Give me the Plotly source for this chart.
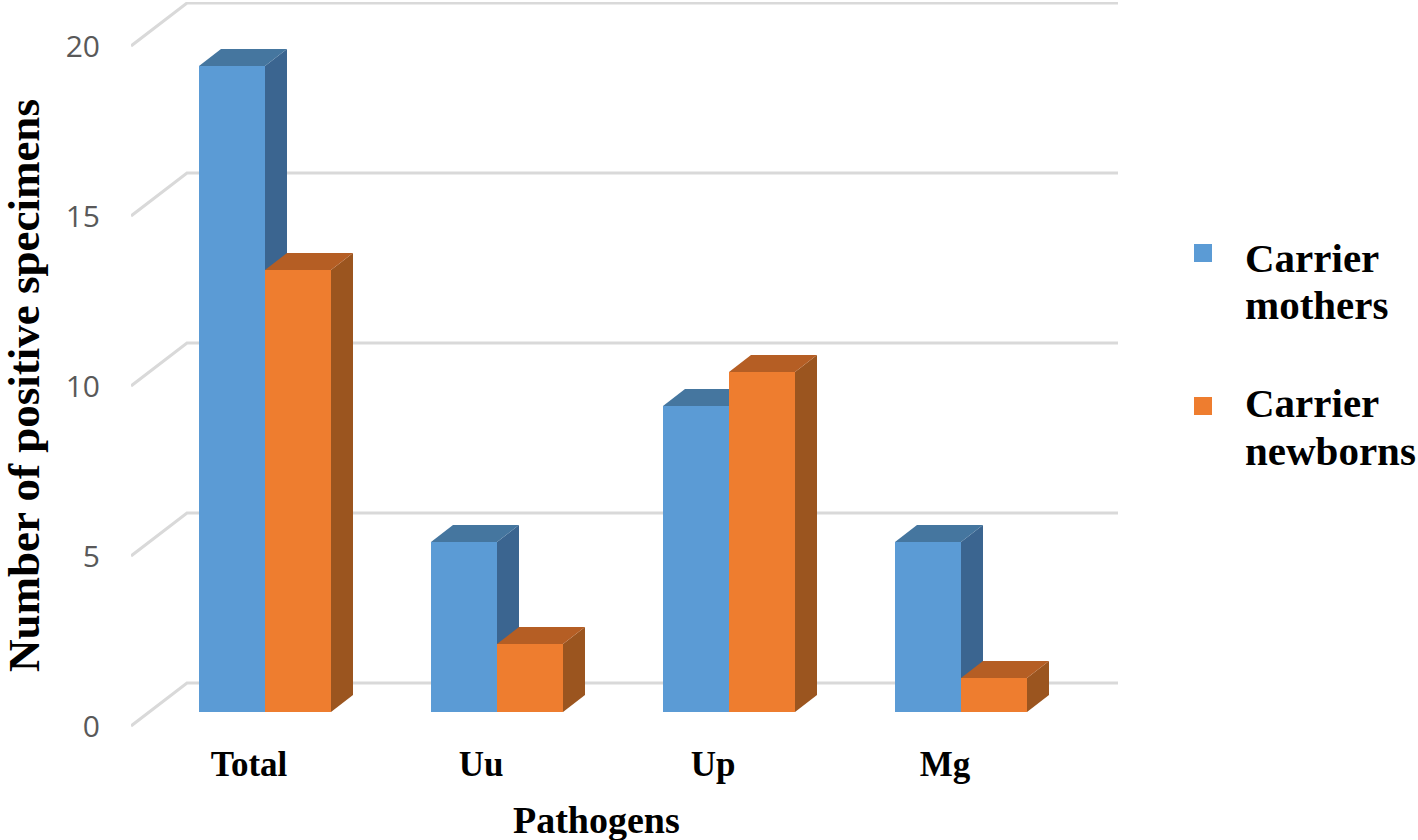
import numpy as np
import plotly.graph_objects as go

categories = ['Total', 'Uu', 'Up', 'Mg']
mothers = [19, 5, 9, 5]
newborns = [13, 2, 10, 1]
y_ticks = [0, 5, 10, 15, 20]

SERIF = 'Liberation Serif'
BLUE = {'front': '#5B9BD5', 'side': '#3B6590', 'top': '#45769F'}
ORANGE = {'front': '#EE7D2F', 'side': '#9B551F', 'top': '#B55E24'}

# pixel scales of the picture, everything below is in data units
PX_X = 232
PX_Y = 34
BAR_W = 66 / PX_X
DEPTH_X = 22 / PX_X
DEPTH_Y = 17 / PX_Y
WALL_X = 56 / PX_X
WALL_Y = 43 / PX_Y
FLOOR_DROP = 14 / PX_Y
X_RANGE = [(131 - 265) / PX_X, (1118 - 265) / PX_X]
Y_RANGE = [(712 - 730) / PX_Y, (712 - 2) / PX_Y]

pos = np.arange(len(categories))


# page pixels to plot domain fractions, for the texts outside the plot
def dom_x(px):
    return (px - 131) / 987


def dom_y(px):
    return (730 - px) / 728


def poly(points, color):
    path = 'M' + ' L'.join(f'{x},{y}' for x, y in points) + ' Z'
    return dict(type='path', path=path, xref='x', yref='y', layer='below',
                fillcolor=color, line_width=0)


def box_faces(x0, value, colors):
    x1 = x0 + BAR_W
    top = poly([(x0, value), (x1, value), (x1 + DEPTH_X, value + DEPTH_Y), (x0 + DEPTH_X, value + DEPTH_Y)],
               colors['top'])
    side = poly([(x1, 0), (x1 + DEPTH_X, DEPTH_Y), (x1 + DEPTH_X, value + DEPTH_Y), (x1, value)],
                colors['side'])
    return [side, top]


def label(text, px, py, size, xanchor='center', angle=0):
    return dict(text=text, xref='x domain', yref='y domain', x=dom_x(px), y=dom_y(py),
                xanchor=xanchor, yanchor='middle', showarrow=False, textangle=angle,
                font=dict(family=SERIF, size=size, color='black', weight='bold'))


shapes = []
for tick in y_ticks:
    y_front = tick - FLOOR_DROP
    y_back = y_front + WALL_Y
    shapes.append(dict(type='path', xref='x', yref='y', layer='below',
                       path=f'M{X_RANGE[0]},{y_front} L{X_RANGE[0] + WALL_X},{y_back} L{X_RANGE[1]},{y_back}',
                       line=dict(color='#D9D9D9', width=3)))
for i in pos:
    shapes += box_faces(i - BAR_W, mothers[i], BLUE)
for i in pos:
    shapes += box_faces(i, newborns[i], ORANGE)

# legend swatches sit on the first text line, the native legend centres them on both lines
for py, colors in [(253, BLUE), (406, ORANGE)]:
    shapes.append(dict(type='rect', xref='x domain', yref='y domain',
                       x0=dom_x(1194), x1=dom_x(1212), y0=dom_y(py - 9), y1=dom_y(py + 9),
                       fillcolor=colors['front'], line_width=0))

fig = go.Figure()
fig.add_trace(go.Bar(x=pos - BAR_W / 2, y=mothers, width=BAR_W, name='Carrier mothers',
                     marker=dict(color=BLUE['front'], line_width=0)))
fig.add_trace(go.Bar(x=pos + BAR_W / 2, y=newborns, width=BAR_W, name='Carrier newborns',
                     marker=dict(color=ORANGE['front'], line_width=0)))

fig.update_layout(
    width=1418, height=840,
    margin=dict(l=131, r=300, t=2, b=110, autoexpand=False),
    barmode='overlay',
    showlegend=False,
    plot_bgcolor='white', paper_bgcolor='white',
    shapes=shapes,
    annotations=[
        label('Number of positive specimens', 24, 386, 45, angle=-90),
        label('Pathogens', 596, 820, 38),
        label('Carrier', 1243, 258, 41, 'left'),
        label('mothers', 1243, 305, 41, 'left'),
        label('Carrier', 1243, 403, 41, 'left'),
        label('newborns', 1243, 451, 41, 'left'),
    ],
)

fig.update_xaxes(range=X_RANGE, tickmode='array', tickvals=list(pos), ticktext=categories,
                 showgrid=False, zeroline=False, showline=False, ticks='',
                 ticklabelshift=-16, ticklabelstandoff=10,
                 tickfont=dict(family=SERIF, size=35, color='black', weight='bold'))
fig.update_yaxes(range=Y_RANGE, tickmode='array', tickvals=y_ticks,
                 showgrid=False, zeroline=False, showline=False, ticks='',
                 ticklabelshift=14, ticklabelstandoff=30,
                 tickfont=dict(family='Open Sans', size=30, color='#595959'))

fig.write_html("out.html", config={'displayModeBar': False}, post_script="document.body.style.margin='0';")
